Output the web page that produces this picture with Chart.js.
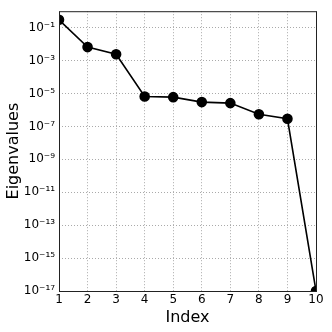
<!DOCTYPE html>
<html>
<head>
<meta charset="utf-8">
<script src="https://cdn.jsdelivr.net/npm/chart.js@4"></script>
<style>
  html, body { margin: 0; padding: 0; background: #fff; }
  #wrap { width: 332px; height: 332px; }
</style>
</head>
<body>
<div id="wrap"><canvas id="eigChart" width="332" height="332"></canvas></div>
<script>
// values
const indices = [1, 2, 3, 4, 5, 6, 7, 8, 9, 10];
const eigenvalues = [0.3, 6.6e-3, 2.4e-3, 6.6e-6, 6.0e-6, 3.0e-6, 2.6e-6, 5.5e-7, 2.9e-7, 1e-17];
const yTickExps = [-1, -3, -5, -7, -9, -11, -13, -15, -17];

const sup = { '-': '\u207B', '0': '\u2070', '1': '\u00B9', '2': '\u00B2', '3': '\u00B3', '4': '\u2074',
              '5': '\u2075', '6': '\u2076', '7': '\u2077', '8': '\u2078', '9': '\u2079' };
function powLabel(e) {
    return '10' + String(e).split('').map(c => sup[c]).join('');
}

const points = indices.map((x, i) => ({ x: x, y: eigenvalues[i] }));

// box around the plot area
const frame = {
    id: 'frame',
    afterDraw(chart) {
        const a = chart.chartArea;
        const ctx = chart.ctx;
        ctx.save();
        ctx.strokeStyle = '#222';
        ctx.lineWidth = 1;
        ctx.strokeRect(a.left + 0.5, a.top + 0.5, a.right - a.left, a.bottom - a.top);
        ctx.restore();
    }
};

const ctx = document.getElementById('eigChart').getContext('2d');
new Chart(ctx, {
    type: 'line',
    data: {
        datasets: [{
            data: points,
            borderColor: '#000',
            backgroundColor: '#000',
            borderWidth: 1.6,
            pointRadius: 4.5,
            pointHoverRadius: 4.5,
            tension: 0,
            clip: 0
        }]
    },
    options: {
        responsive: false,
        animation: false,
        layout: { padding: { top: 8, right: 16, left: 0, bottom: 0 } },
        plugins: { legend: { display: false }, tooltip: { enabled: false } },
        scales: {
            x: {
                type: 'linear',
                min: 1,
                max: 10,
                ticks: {
                    stepSize: 1,
                    color: '#000',
                    padding: 2,
                    font: { family: 'DejaVu Sans', size: 12 }
                },
                grid: { color: '#aaa', drawTicks: false },
                border: { display: false, dash: [1, 2] },
                title: {
                    display: true,
                    text: 'Index',
                    color: '#000',
                    padding: { top: 0, bottom: 5 },
                    font: { family: 'DejaVu Sans', size: 16 }
                },
                afterFit(scale) { scale.height = 41; }
            },
            y: {
                type: 'logarithmic',
                min: 1e-17,
                max: 1,
                afterBuildTicks(scale) {
                    scale.ticks = yTickExps.map(e => ({ value: Math.pow(10, e) }));
                },
                ticks: {
                    color: '#000',
                    padding: 4,
                    font: { family: 'DejaVu Sans', size: 12 },
                    callback: function (v) { return powLabel(Math.round(Math.log10(v))); }
                },
                grid: { color: '#aaa', drawTicks: false },
                border: { display: false, dash: [1, 2] },
                title: {
                    display: true,
                    text: 'Eigenvalues',
                    color: '#000',
                    padding: { top: 4, bottom: 0 },
                    font: { family: 'DejaVu Sans', size: 16 }
                },
                afterFit(scale) { scale.width = 59; }
            }
        }
    },
    plugins: [frame]
});
</script>
</body>
</html>
